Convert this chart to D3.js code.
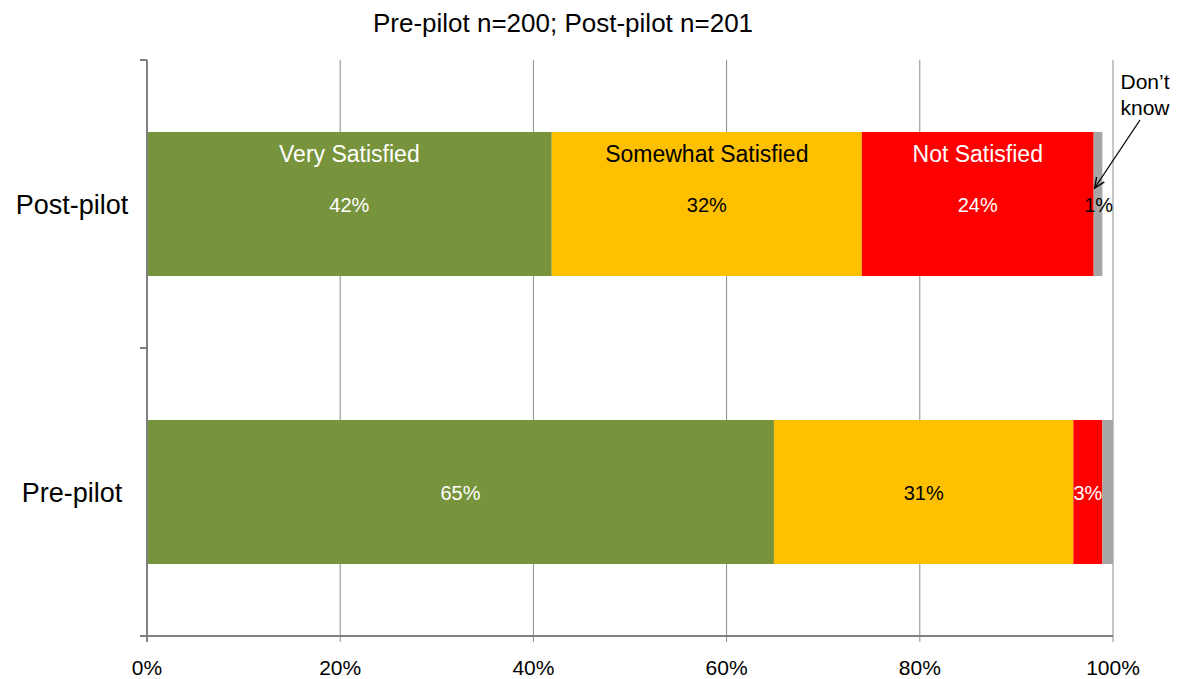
<!DOCTYPE html>
<html>
<head>
<meta charset="utf-8">
<script src="https://cdn.jsdelivr.net/npm/d3@7"></script>
<style>
  body { margin: 0; background: #fff; }
  svg { font-family: Arial, "Liberation Sans", sans-serif; }
</style>
</head>
<body>
<div id="chart"></div>
<script>
// data
var groups = ["Post-pilot", "Pre-pilot"];
var categories = ["Very Satisfied", "Somewhat Satisfied", "Not Satisfied", "Don't know"];
var colors = ["#77933c", "#ffc000", "#ff0000", "#a6a6a6"];
var postValues = [41.9, 32.1, 24.0, 0.9];
var preValues = [64.9, 31.0, 3.0, 1.1];
var postLabels = ["42%", "32%", "24%", "1%"];
var preLabels = ["65%", "31%", "3%", ""];
var xTicks = [0, 20, 40, 60, 80, 100];

var width = 1180, height = 679;
var margin = { top: 60, right: 67, bottom: 43, left: 147 };

var svg = d3.select("#chart").append("svg")
    .attr("width", width)
    .attr("height", height);

var x = d3.scaleLinear().domain([0, 100]).range([margin.left, width - margin.right]);
var y = d3.scaleBand().domain(groups)
    .range([margin.top, height - margin.bottom])
    .paddingInner(0.5).paddingOuter(0.25);

// stacked rows
var rows = [
    { group: "Post-pilot", values: postValues, labels: postLabels },
    { group: "Pre-pilot", values: preValues, labels: preLabels }
];
rows.forEach(function (r) {
    var acc = 0;
    r.segs = r.values.map(function (v, i) {
        var s = { x0: acc, x1: acc + v, i: i, label: r.labels[i], group: r.group };
        acc += v;
        return s;
    });
});

// gridlines
svg.append("g").selectAll("line")
    .data(xTicks.slice(1))
    .enter().append("line")
    .attr("x1", function (d) { return x(d); })
    .attr("x2", function (d) { return x(d); })
    .attr("y1", margin.top)
    .attr("y2", height - margin.bottom + 6)
    .attr("stroke", "#8c8c8c")
    .attr("stroke-width", 1);

// bars
var rowG = svg.selectAll(".row").data(rows).enter().append("g").attr("class", "row");
rowG.selectAll("rect")
    .data(function (r) { return r.segs; })
    .enter().append("rect")
    .attr("x", function (d) { return x(d.x0); })
    .attr("y", function (d) { return y(d.group); })
    .attr("width", function (d) { return x(d.x1) - x(d.x0); })
    .attr("height", y.bandwidth())
    .attr("fill", function (d) { return colors[d.i]; });

// value labels
rowG.selectAll("text.val")
    .data(function (r) { return r.segs.filter(function (s) { return s.label; }); })
    .enter().append("text")
    .attr("class", "val")
    .attr("x", function (d) { return d.i == 3 ? x(d.x0) + 5 : (x(d.x0) + x(d.x1)) / 2; })
    .attr("y", function (d) { return y(d.group) + y.bandwidth() / 2 + 8; })
    .attr("text-anchor", "middle")
    .attr("font-size", 20)
    .attr("fill", function (d) { return (d.i == 1 || d.i == 3) ? "#000" : "#fff"; })
    .text(function (d) { return d.label; });

// category names inside post-pilot bar
svg.selectAll("text.cat")
    .data(rows[0].segs.slice(0, 3))
    .enter().append("text")
    .attr("class", "cat")
    .attr("x", function (d) { return (x(d.x0) + x(d.x1)) / 2; })
    .attr("y", y("Post-pilot") + 30)
    .attr("text-anchor", "middle")
    .attr("font-size", 23)
    .attr("fill", function (d) { return d.i == 1 ? "#000" : "#fff"; })
    .text(function (d) { return categories[d.i]; });

// axes lines
svg.append("line")
    .attr("x1", x(0)).attr("x2", x(0))
    .attr("y1", margin.top).attr("y2", height - margin.bottom + 6)
    .attr("stroke", "#808080").attr("stroke-width", 2);
svg.append("line")
    .attr("x1", x(0)).attr("x2", x(100))
    .attr("y1", height - margin.bottom).attr("y2", height - margin.bottom)
    .attr("stroke", "#808080").attr("stroke-width", 2);

// y ticks at band boundaries
var yTicks = [margin.top, (margin.top + height - margin.bottom) / 2, height - margin.bottom];
svg.selectAll("line.ytick").data(yTicks).enter().append("line")
    .attr("x1", x(0) - 7).attr("x2", x(0))
    .attr("y1", function (d) { return d; }).attr("y2", function (d) { return d; })
    .attr("stroke", "#808080").attr("stroke-width", 2);

// x tick labels
svg.selectAll("text.xt").data(xTicks).enter().append("text")
    .attr("x", function (d) { return x(d); })
    .attr("y", 675)
    .attr("text-anchor", "middle")
    .attr("font-size", 21)
    .text(function (d) { return d + "%"; });

// group labels
svg.selectAll("text.gl").data(groups).enter().append("text")
    .attr("x", 72)
    .attr("y", function (d) { return y(d) + y.bandwidth() / 2 + 10; })
    .attr("text-anchor", "middle")
    .attr("font-size", 27)
    .text(function (d) { return d; });

// title
svg.append("text")
    .attr("x", 563).attr("y", 32)
    .attr("text-anchor", "middle")
    .attr("font-size", 26)
    .text("Pre-pilot n=200; Post-pilot n=201");

// Don't know annotation
svg.append("defs").append("marker")
    .attr("id", "arr").attr("viewBox", "0 0 10 10")
    .attr("refX", 9).attr("refY", 5)
    .attr("markerWidth", 9).attr("markerHeight", 9)
    .attr("orient", "auto")
    .append("path").attr("d", "M0,1 L9,5 L0,9").attr("fill", "none").attr("stroke", "#000").attr("stroke-width", 1.2);
svg.append("line")
    .attr("x1", 1140).attr("y1", 120)
    .attr("x2", x(rows[0].segs[3].x0) + 1).attr("y2", 188)
    .attr("stroke", "#000").attr("stroke-width", 1.3)
    .attr("marker-end", "url(#arr)");
var dk = svg.append("text").attr("text-anchor", "middle").attr("font-size", 21);
dk.append("tspan").attr("x", 1145).attr("y", 89).text("Don\u2019t");
dk.append("tspan").attr("x", 1145).attr("y", 115).text("know");
</script>
</body>
</html>
